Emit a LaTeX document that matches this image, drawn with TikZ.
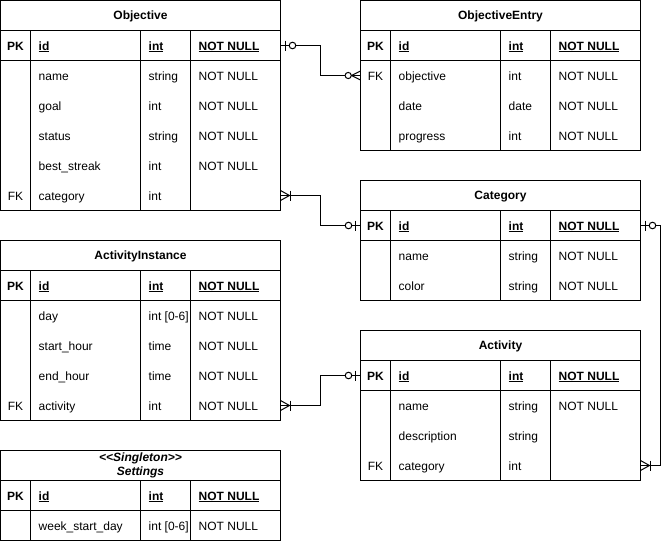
\documentclass[tikz,border=0pt]{standalone}
\usepackage{fontspec}
\setmainfont{Liberation Sans}
\newcommand{\fs}{\fontsize{12}{14}\selectfont}
\tikzset{
  ln/.style={line width=1pt, black},
  tblbox/.style={draw, line width=1pt, minimum width=280pt, inner sep=0pt, outer sep=0pt, anchor=north west},
  rowbox/.style={minimum width=280pt, minimum height=30pt, inner sep=0pt, outer sep=0pt, anchor=north west},
  titletxt/.style={font=\fs\bfseries, inner sep=0pt, anchor=base},
  txt/.style={font=\fs, inner sep=0pt, anchor=base west},
  keytxt/.style={font=\fs, inner sep=0pt, anchor=base},
  conn/.style={line width=1pt, black},
}
\newcommand{\ERtable}[5]{%
  \node[tblbox, minimum height=#5pt] (#1) at (#2,#3) {};
  \draw[ln] (#2,#3+#4) -- (#2+280,#3+#4);
  \draw[ln] (#2,#3+#4+30) -- (#2+280,#3+#4+30);
  \draw[ln] (#2+30,#3+#4) -- (#2+30,#3+#5);
  \draw[ln] (#2+140,#3+#4) -- (#2+140,#3+#5);
  \draw[ln] (#2+190,#3+#4) -- (#2+190,#3+#5);
}
\newcommand{\ERrow}[7]{%
  \node[rowbox] (#1) at (#2,#3) {};
  \node[keytxt] (#1-k) at (#2+15,#3+19.5) {#4};
  \node[txt] (#1-f) at (#2+38,#3+19.5) {#5};
  \node[txt] (#1-t) at (#2+148,#3+19.5) {#6};
  \node[txt] (#1-c) at (#2+198,#3+19.5) {#7};
}
\newcommand{\pk}[1]{\textbf{\underline{#1}}}
\newcommand{\zeroOne}[2]{%
  \draw[conn] ([xshift=#2*5pt]#1) ++(0,-5) -- ++(0,10);
  \draw[conn, fill=white] ([xshift=#2*12pt]#1) circle (3.3pt);
}
\newcommand{\zeroMany}[2]{%
  \draw[conn] ([yshift=4.5pt]#1) -- ([xshift=#2*9pt]#1) -- ([yshift=-4.5pt]#1);
  \draw[conn, fill=white] ([xshift=#2*12.3pt]#1) circle (3.1pt);
}
\newcommand{\oneMany}[2]{%
  \draw[conn] ([yshift=5pt]#1) -- ([xshift=#2*9pt]#1) -- ([yshift=-5pt]#1);
  \draw[conn] ([xshift=#2*10pt, yshift=5pt]#1) -- ([xshift=#2*10pt, yshift=-5pt]#1);
}
\begin{document}
\begin{tikzpicture}[x=1pt, y=-1pt]
\useasboundingbox (0,0) rectangle (670,541);

% Objective
\ERtable{obj}{0.5}{0.5}{30}{210}
\node[titletxt] (obj-title) at (140.5,19.8) {Objective};
\ERrow{objPK}{0.5}{30.5}{\textbf{PK}}{\pk{id}}{\pk{int}}{\pk{NOT NULL}}
\ERrow{objR1}{0.5}{60.5}{}{name}{string}{NOT NULL}
\ERrow{objR2}{0.5}{90.5}{}{goal}{int}{NOT NULL}
\ERrow{objR3}{0.5}{120.5}{}{status}{string}{NOT NULL}
\ERrow{objR4}{0.5}{150.5}{}{best\_streak}{int}{NOT NULL}
\ERrow{objR5}{0.5}{180.5}{FK}{category}{int}{}

% ObjectiveEntry
\ERtable{oe}{360.5}{0.5}{30}{150}
\node[titletxt] (oe-title) at (500.5,19.8) {ObjectiveEntry};
\ERrow{oePK}{360.5}{30.5}{\textbf{PK}}{\pk{id}}{\pk{int}}{\pk{NOT NULL}}
\ERrow{oeR1}{360.5}{60.5}{FK}{objective}{int}{NOT NULL}
\ERrow{oeR2}{360.5}{90.5}{}{date}{date}{NOT NULL}
\ERrow{oeR3}{360.5}{120.5}{}{progress}{int}{NOT NULL}

% Category
\ERtable{cat}{360.5}{180.5}{30}{120}
\node[titletxt] (cat-title) at (500.5,199.8) {Category};
\ERrow{catPK}{360.5}{210.5}{\textbf{PK}}{\pk{id}}{\pk{int}}{\pk{NOT NULL}}
\ERrow{catR1}{360.5}{240.5}{}{name}{string}{NOT NULL}
\ERrow{catR2}{360.5}{270.5}{}{color}{string}{NOT NULL}

% ActivityInstance
\ERtable{ai}{0.5}{240.5}{30}{180}
\node[titletxt] (ai-title) at (140.5,259.8) {ActivityInstance};
\ERrow{aiPK}{0.5}{270.5}{\textbf{PK}}{\pk{id}}{\pk{int}}{\pk{NOT NULL}}
\ERrow{aiR1}{0.5}{300.5}{}{day}{int [0-6]}{NOT NULL}
\ERrow{aiR2}{0.5}{330.5}{}{start\_hour}{time}{NOT NULL}
\ERrow{aiR3}{0.5}{360.5}{}{end\_hour}{time}{NOT NULL}
\ERrow{aiR4}{0.5}{390.5}{FK}{activity}{int}{NOT NULL}

% Activity
\ERtable{act}{360.5}{330.5}{30}{150}
\node[titletxt] (act-title) at (500.5,349.8) {Activity};
\ERrow{actPK}{360.5}{360.5}{\textbf{PK}}{\pk{id}}{\pk{int}}{\pk{NOT NULL}}
\ERrow{actR1}{360.5}{390.5}{}{name}{string}{NOT NULL}
\ERrow{actR2}{360.5}{420.5}{}{description}{string}{}
\ERrow{actR3}{360.5}{450.5}{FK}{category}{int}{}

% Settings
\ERtable{set}{0.5}{450.5}{30}{90}
\node[font=\fs\bfseries\itshape, align=center, inner sep=0pt] (set-title) at (140.5,465.5) {{<}{<}Singleton{>}{>}\\Settings};
\ERrow{setPK}{0.5}{480.5}{\textbf{PK}}{\pk{id}}{\pk{int}}{\pk{NOT NULL}}
\ERrow{setR1}{0.5}{510.5}{}{week\_start\_day}{int [0-6]}{NOT NULL}

% connectors
\draw[conn] (objPK.east) -- ++(40,0) |- (oeR1.west);
\draw[conn] (objR5.east) -- ++(40,0) |- (catPK.west);
\draw[conn] (actPK.west) -- ++(-40,0) |- (aiR4.east);
\draw[conn] (catPK.east) -- ++(20,0) |- (actR3.east);

\zeroOne{objPK.east}{1}
\zeroMany{oeR1.west}{-1}
\oneMany{objR5.east}{1}
\zeroOne{catPK.west}{-1}
\zeroOne{actPK.west}{-1}
\oneMany{aiR4.east}{1}
\zeroOne{catPK.east}{1}
\oneMany{actR3.east}{1}
\end{tikzpicture}
\end{document}
